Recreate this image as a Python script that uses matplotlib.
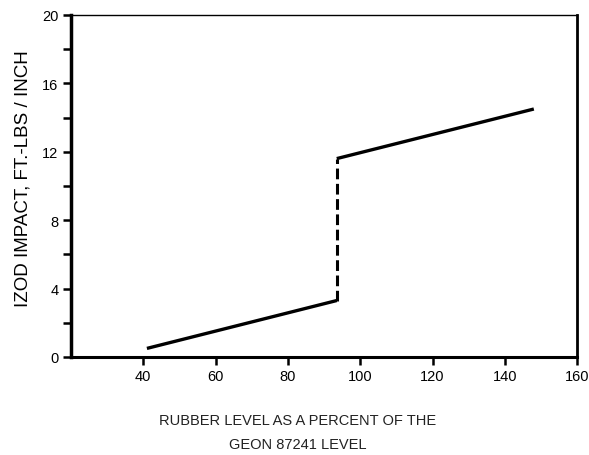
import numpy as np
import matplotlib
matplotlib.use("Agg")
import matplotlib.pyplot as plt

# rubber level (% of Geon 87241 level) vs Izod impact
low_x = [41, 93.5]
low_y = [0.5, 3.3]
jump_x = [93.5, 93.5]
jump_y = [3.3, 11.6]
high_x = [93.5, 148]
high_y = [11.6, 14.5]

x_ticks = [40, 60, 80, 100, 120, 140, 160]
y_major = [0, 4, 8, 12, 16, 20]
y_minor = [2, 6, 10, 14, 18]

plt.rcParams['font.family'] = ['Liberation Sans', 'DejaVu Sans']

fig = plt.figure(figsize=(5.89, 4.56), dpi=100)
ax = fig.add_axes([0.1205, 0.215, 0.8595, 0.75])

ax.plot(low_x, low_y, color="black", lw=2.4, solid_capstyle="butt")
ax.plot(jump_x, jump_y, color="black", lw=2.2, ls=(0, (3.5, 1.5)))
ax.plot(high_x, high_y, color="black", lw=2.4, solid_capstyle="butt")

ax.set_xlim(20, 160)
ax.set_ylim(0, 20)
ax.set_xticks(x_ticks)
ax.set_yticks(y_major)
ax.set_yticks(y_minor, minor=True)
ax.tick_params(axis="both", which="both", direction="out", length=6, width=1.8,
               labelsize=10.5, pad=3)

ax.spines["left"].set_linewidth(2.5)
ax.spines["bottom"].set_linewidth(2.2)
ax.spines["top"].set_linewidth(1.0)
ax.spines["right"].set_linewidth(2.0)

ax.set_ylabel("IZOD IMPACT, FT.-LBS / INCH", fontsize=13.5)
ax.yaxis.set_label_coords(-0.078, 0.523)

fig.text(298 / 589, 1 - 421 / 456, "RUBBER LEVEL AS A PERCENT OF THE",
         ha="center", va="center", fontsize=10.5, color="#222222")
fig.text(298 / 589, 1 - 445 / 456, "GEON 87241 LEVEL",
         ha="center", va="center", fontsize=10.5, color="#222222")

fig.savefig("out.png", dpi=100)
